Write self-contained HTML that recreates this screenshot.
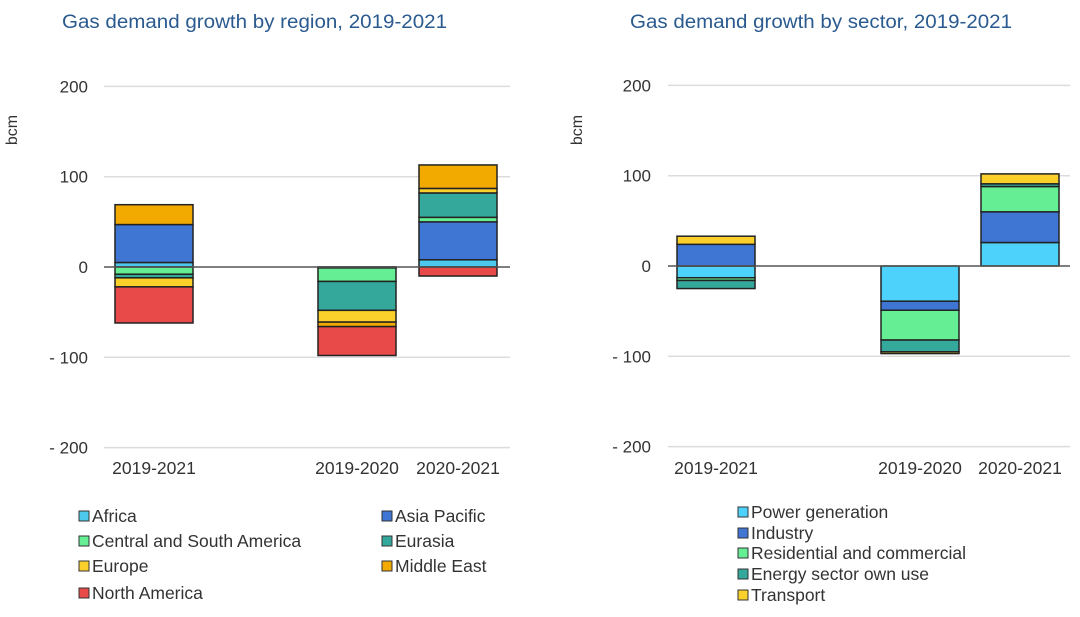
<!DOCTYPE html>
<html><head><meta charset="utf-8"><style>
body{margin:0;background:#fff;font-family:"Liberation Sans",sans-serif}
svg text{font-family:"Liberation Sans",sans-serif}
</style></head><body>
<svg id="c" width="1080" height="612" xmlns="http://www.w3.org/2000/svg"></svg>
<script>
const categories = ["2019-2021","2019-2020","2020-2021"];
const yTicks = [200,100,0,-100,-200];
const yTickLabels = ["200","100","0","- 100","- 200"];
const regionNames = ["Africa","Asia Pacific","Central and South America","Eurasia","Europe","Middle East","North America"];
const africa = [5,-1,8];
const asiaPacific = [42,0,42];
const centralSouthAmerica = [-8,-15,5];
const eurasia = [-4,-32,27];
const europe = [-10,-13,5];
const middleEast = [22,-5,26];
const northAmerica = [-40,-32,-10];
const sectorNames = ["Power generation","Industry","Residential and commercial","Energy sector own use","Transport"];
const power = [-13,-39,26];
const industry = [24,-10,34];
const residential = [-3,-33,28];
const energyOwnUse = [-9,-13,3];
const transport = [9,-2,11];

const regionColors=["#4dc9ee","#3f76d4","#66ee94","#35a89c","#fbd02a","#f2a900","#e84a4a"];
const sectorColors=["#4dd2fb","#3f76d4","#66ee94","#35a89c","#fbd02a"];
const NS="http://www.w3.org/2000/svg";
const svg=document.getElementById('c');
function mk(t,a,p){const e=document.createElementNS(NS,t);for(const k in a)e.setAttribute(k,a[k]);(p||svg).appendChild(e);return e;}

function drawChart(o){
  const g=mk('g',{});
  
  
  const y=v=>o.zero-v*0.903;
  const t=mk('text',{x:o.titleX,y:28,fill:'#2a5a8f','font-size':19,textLength:o.titleW,lengthAdjust:'spacingAndGlyphs'},g);t.textContent=o.title;
  
  const yl=mk('text',{x:0,y:0,fill:'#333','font-size':16,transform:`translate(${o.bcmX},130) rotate(-90)`,'text-anchor':'middle'},g);yl.textContent='bcm';
  
  yTicks.forEach((v,i)=>{
    if(v!==0){const l=mk('line',{x1:o.gx1,x2:o.gx2,y1:y(v),y2:y(v),stroke:'#dcdcdc','stroke-width':1.5},g);
      }
    const tx=mk('text',{x:o.tickX,y:y(v)+6,'text-anchor':'end',fill:'#333','font-size':17},g);tx.textContent=yTickLabels[i];
    
  });
  categories.forEach((c,ci)=>{
    let pos=0,neg=0;const x=o.barX[ci];
    o.series.forEach((s,si)=>{
      const v=s[ci];let y0,y1;
      if(v>=0){y0=pos;y1=pos+v;pos=y1;}else{y0=neg;y1=neg+v;neg=y1;}
      const top=y(Math.max(y0,y1)),h=Math.abs(y(y0)-y(y1));
      const r=mk('rect',{x:x,y:top,width:o.bw,height:Math.max(h,0.5),fill:o.colors[si],stroke:'#222','stroke-width':1.5},g);
      
      
    });
    const cl=mk('text',{x:x+o.bw/2,y:474,'text-anchor':'middle',fill:'#333','font-size':17.5},g);cl.textContent=c;
    
  });
  const z=mk('line',{x1:o.gx1,x2:o.gx2,y1:y(0),y2:y(0),stroke:'#555','stroke-width':1.5},g);
  
  o.legend.forEach((L,i)=>{
    const s=mk('rect',{x:L[0],y:L[1]-10,width:10,height:10,fill:o.colors[i],stroke:'#333','stroke-width':1},g);
    
    const tt=mk('text',{x:L[0]+13,y:L[1]+1,fill:'#333','font-size':17.5},g);tt.textContent=o.snames[i];
    
  });
}
drawChart({name:'region-chart',title:'Gas demand growth by region, 2019-2021',titleX:62,titleW:385,bcmX:17,zero:267,gx1:104,gx2:510,tickX:88,
  barX:[115,318,419],bw:78,series:[africa,asiaPacific,centralSouthAmerica,eurasia,europe,middleEast,northAmerica],colors:regionColors,snames:regionNames,
  legend:[[79,521],[382,521],[79,546],[382,546],[79,571],[382,571],[79,598]]});
drawChart({name:'sector-chart',title:'Gas demand growth by sector, 2019-2021',titleX:630,titleW:382,bcmX:582,zero:266,gx1:668,gx2:1070,tickX:651,
  barX:[677,881,981],bw:78,series:[power,industry,residential,energyOwnUse,transport],colors:sectorColors,snames:sectorNames,
  legend:[[738,517],[738,538],[738,558],[738,579],[738,600]]});
</script>
</body></html>
